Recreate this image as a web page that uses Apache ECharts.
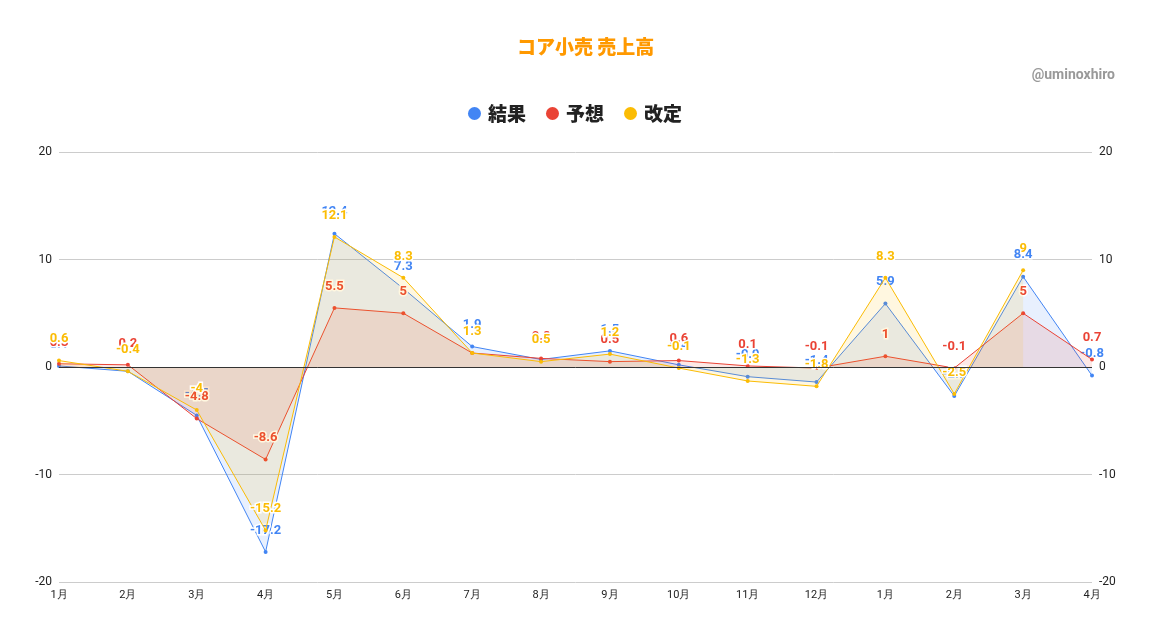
<!DOCTYPE html>
<html>
<head>
<meta charset="utf-8">
<script src="https://cdn.jsdelivr.net/npm/echarts@6/dist/echarts.min.js"></script>
<style>html,body{margin:0;padding:0;background:#fff}#c{width:1150px;height:634px}</style>
</head>
<body>
<div id="c"></div>
<script>
var categories = ['1月','2月','3月','4月','5月','6月','7月','8月','9月','10月','11月','12月','1月','2月','3月','4月'];
var kekka = [0.1, -0.4, -4.5, -17.2, 12.4, 7.3, 1.9, 0.7, 1.5, 0.2, -0.9, -1.4, 5.9, -2.7, 8.4, -0.8];
var yosou = [0.3, 0.2, -4.8, -8.6, 5.5, 5, 1.3, 0.8, 0.5, 0.6, 0.1, -0.1, 1, -0.1, 5, 0.7];
var kaitei = [0.6, -0.4, -4, -15.2, 12.1, 8.3, 1.3, 0.5, 1.2, -0.1, -1.3, -1.8, 8.3, -2.5, 9, null];
var seriesNames = ['結果','予想','改定'];
var colors = ['#4285f4','#ea4335','#fbbc04'];
var yTicks = {min: -20, max: 20, interval: 10};

var font = 'Roboto, Arial, sans-serif';
var jfont = '"Noto Sans CJK JP", sans-serif';
var chart = echarts.init(document.getElementById('c'));
function mk(name, data, color, z) {
  return {
    name: name, type: 'line', data: data, z: z,
    symbol: 'circle', symbolSize: 4, showSymbol: true,
    lineStyle: {width: 1, color: color},
    itemStyle: {color: color},
    areaStyle: {color: color, opacity: 0.12, origin: 0},
    label: {
      show: true, position: 'top', distance: 13,
      color: color, fontSize: 13, fontWeight: 'bold', fontFamily: font,
      textBorderColor: '#fff', textBorderWidth: 3
    },
    emphasis: {disabled: true}
  };
}
chart.setOption({
  animation: false,
  backgroundColor: '#fff',
  color: colors,
  title: [
    {text: 'コア小売 売上高', left: 512, top: 32,
     textStyle: {color: '#ff9900', fontSize: 19, fontWeight: 900, fontFamily: jfont}},
    {text: '@uminoxhiro', right: 30, top: 63,
     textStyle: {color: '#999', fontSize: 14, fontWeight: 'bold', fontFamily: font}}
  ],
  legend: {
    top: 99, left: 'center', icon: 'circle', itemWidth: 13, itemHeight: 13, itemGap: 20,
    textStyle: {fontSize: 19, fontWeight: 900, color: '#222', fontFamily: jfont, padding: [0, 0, 0, 2]},
    data: seriesNames
  },
  grid: {left: 59, right: 58, top: 152, bottom: 52},
  xAxis: {
    type: 'category', data: categories, boundaryGap: false,
    axisLine: {show: false}, axisTick: {show: false},
    axisLabel: {color: '#222', fontSize: 11, fontFamily: font, margin: 8, interval: 0},
    splitLine: {show: false}
  },
  yAxis: [
    {type: 'value', min: yTicks.min, max: yTicks.max, interval: yTicks.interval, position: 'left',
     axisLine: {show: false}, axisTick: {show: false},
     axisLabel: {color: '#222', fontSize: 12, fontFamily: font, margin: 7},
     splitLine: {lineStyle: {color: '#cccccc', width: 1}}},
    {type: 'value', min: yTicks.min, max: yTicks.max, interval: yTicks.interval, position: 'right',
     axisLine: {show: false}, axisTick: {show: false},
     axisLabel: {color: '#222', fontSize: 12, fontFamily: font, margin: 7},
     splitLine: {show: false}}
  ],
  series: [
    Object.assign(mk(seriesNames[0], kekka, colors[0], 2), {
      markLine: {silent: true, symbol: 'none', label: {show: false},
        lineStyle: {color: '#333', width: 1, type: 'solid'}, data: [{yAxis: 0}]}
    }),
    mk(seriesNames[1], yosou, colors[1], 3),
    mk(seriesNames[2], kaitei, colors[2], 4)
  ]
});
</script>
</body>
</html>
